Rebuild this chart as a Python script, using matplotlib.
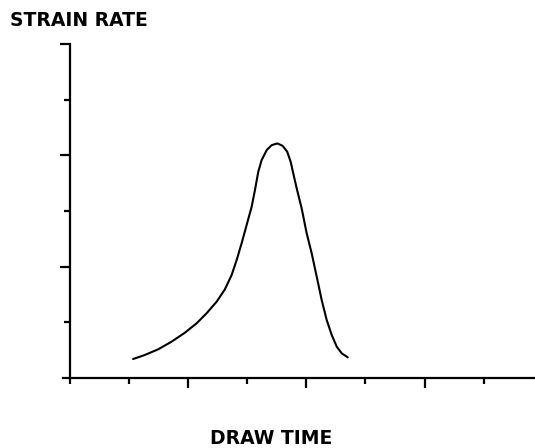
import numpy as np
import matplotlib
matplotlib.use("Agg")
import matplotlib.pyplot as plt

# strain rate vs draw time (arbitrary units, one unit per tick)
draw_time = [1.066, 1.264, 1.490, 1.717, 1.942, 2.141, 2.310, 2.480, 2.620,
             2.734, 2.819, 2.903, 2.988, 3.073, 3.129, 3.185, 3.242, 3.327,
             3.412, 3.507, 3.598, 3.676, 3.734, 3.778, 3.836, 3.920, 4.005,
             4.090, 4.175, 4.259, 4.344, 4.429, 4.514, 4.598, 4.700]
strain_rate = [0.341, 0.413, 0.515, 0.652, 0.813, 0.982, 1.162, 1.370, 1.592,
               1.849, 2.118, 2.418, 2.747, 3.075, 3.375, 3.704, 3.914, 4.093,
               4.183, 4.214, 4.171, 4.063, 3.883, 3.675, 3.406, 3.047, 2.598,
               2.239, 1.819, 1.400, 1.041, 0.772, 0.562, 0.443, 0.372]

plt.rcParams['font.family'] = ['DejaVu Sans']

fig = plt.figure(figsize=(5.35, 4.48), dpi=100)
ax = fig.add_axes([0.1178, 0.15625, 0.8822, 0.7455])

ax.plot(draw_time, strain_rate, color='black', lw=1.5, solid_capstyle='round',
        solid_joinstyle='round')

ax.set_xlim(-0.12, 7.87)
ax.set_ylim(0, 6.0)

for s in ['top', 'right']:
    ax.spines[s].set_visible(False)
ax.spines['left'].set_position(('data', 0))
for s in ['left', 'bottom']:
    ax.spines[s].set_linewidth(1.6)

ax.set_xticks([2, 4, 6])
ax.set_xticks([0, 1, 3, 5, 7], minor=True)
ax.set_yticks([2, 4, 6])
ax.set_yticks([1, 3, 5], minor=True)
ax.set_xticklabels([])
ax.set_yticklabels([])
ax.tick_params(which='major', length=7, width=1.6, direction='out')
ax.tick_params(which='minor', length=4, width=1.6, direction='out')

fig.text(10 / 535, 1 - 20 / 448, 'STRAIN RATE', fontsize=13.5, fontweight='bold',
         ha='left', va='center')
fig.text(271 / 535, 1 - 438 / 448, 'DRAW TIME', fontsize=13.5, fontweight='bold',
         ha='center', va='center')

fig.savefig('out.png', dpi=100)
